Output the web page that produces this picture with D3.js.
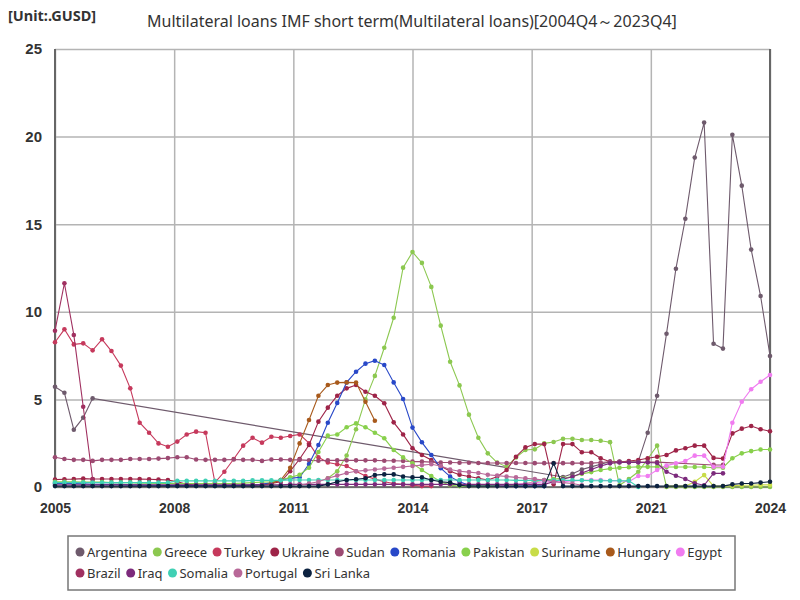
<!DOCTYPE html>
<html>
<head>
<meta charset="utf-8">
<script src="https://cdn.jsdelivr.net/npm/d3@7"></script>
<style>
  body { margin: 0; background: #fff; }
  svg { font-family: "Noto Sans", "DejaVu Sans", sans-serif; }
</style>
</head>
<body>
<div id="chart"></div>
<script>
// ---- data (GUSD, quarterly 2004Q4 .. 2023Q4, null = no value) ----
const _ = null;

const quarters = ["2004Q4"];
for (let yr = 2005; yr <= 2023; yr++) {
  for (let q = 1; q <= 4; q++) quarters.push(yr + "Q" + q);
}

const tickLabels = ["2005", "2008", "2011", "2014", "2017", "2021", "2024"];
const yTicks = [0, 5, 10, 15, 20, 25];

const countries = ["Argentina", "Greece", "Turkey", "Ukraine", "Sudan", "Romania", "Pakistan",
  "Suriname", "Hungary", "Egypt", "Brazil", "Iraq", "Somalia", "Portugal", "Sri Lanka"];

const argentina = [5.72, 5.38, 3.27, 3.96, 5.06,
  _, _, _, _, _, _, _, _, _, _, _, _, _, _, _, _, _, _, _, _, _, _, _, _, _,
  _, _, _, _, _, _, _, _, _, _, _, _, _, _, _, _, _, _, _, _, _, _, _, _,
  0.57, 0.75, 1.0, 1.15, 1.3, 1.45, 1.45, 1.42, 1.45,
  3.1, 5.21, 8.75, 12.46, 15.31, 18.8, 20.8, 8.18, 7.9, 20.1, 17.2, 13.55, 10.9, 7.48];

const greece = [_, _, _, _, _, _, _, _, _, _, _, _, _, _, _, _, _, _, _, _, _, _, _, _, _, _, _, _, _,
  0.5, 0.9, 1.8, 3.3, 5.0, 6.34, 7.95, 9.66, 12.52, 13.41, 12.79, 11.42, 9.21, 7.15, 5.8, 4.13,
  2.81, 1.92, 1.39, 1.16, 1.69, 2.11, 2.15, 2.49, 2.57, 2.75, 2.75, 2.68, 2.68, 2.64, 2.56,
  0.1, 0.46, 0.87, 1.6, 2.36,
  0, 0, 0, 0, 0, 0, 0, 0, 0, 0, 0, 0];

const turkey = [8.26, 9.0, 8.14, 8.2, 7.8, 8.43, 7.76, 6.93, 5.63, 3.67, 3.1, 2.49, 2.3, 2.59, 3.0, 3.16, 3.1,
  0.25, 0.87, 1.6, 2.36, 2.81, 2.53, 2.87, 2.81, 2.91, 3.0,
  2.5, 1.7, 1.4, 1.3, 1.2, 0.9, 0.63, 0.45, 0.3, 0.2, 0.15, 0.1, 0.05, 0.05,
  _, _, _, _, _, _, _, _, _, _, _, _, _, _, _, _, _, _, _, _, _, _, _, _, _, _, _, _, _, _, _, _, _, _, _, _];

const ukraine = [0.42, 0.44, 0.45, 0.48, 0.46, 0.46, 0.46, 0.46, 0.46, 0.45, 0.44, 0.42, 0.4,
  0.3, 0.15, 0.1, 0.1, 0.1, 0.1, 0.1, 0.1, 0.1, 0.15, 0.2,
  0.3, 0.9, 1.6, 2.4, 3.73, 4.53, 5.21, 5.63, 5.82, 5.44, 5.21, 4.78, 3.69, 3.0, 2.21, 1.83,
  1.54, 1.2, 0.9, 0.7, 0.6, 0.5, 0.4, 0.59, 0.97, 1.73, 2.26, 2.45, 2.45,
  0.15, 2.45, 2.45, 1.98, 1.98, 1.64, 1.44, 1.42, 1.48, 1.54, 1.64, 1.73, 1.83, 2.09, 2.21, 2.36,
  2.36, 1.66, 1.62, 3.06, 3.33, 3.48, 3.3, 3.18];

const sudan = [1.7, 1.6, 1.55, 1.55, 1.49, 1.55, 1.55, 1.55, 1.6, 1.6, 1.6, 1.62, 1.65, 1.7, 1.7,
  1.57, 1.55, 1.55, 1.55, 1.57, 1.55, 1.55, 1.49, 1.57, 1.57,
  1.55, 1.55, 1.52, 1.5, 1.52, 1.52, 1.52, 1.52, 1.52, 1.52, 1.5, 1.5, 1.48, 1.45, 1.45, 1.42,
  1.4, 1.4, 1.38, 1.38, 1.37,
  1.37, 1.37, 1.37, 1.37, 1.37, 1.36, 1.36, 1.36, 1.36, 1.36, 1.36, 1.36, 1.4, 1.44, 1.44, 1.42,
  1.42, 1.42, 1.42,
  _, _, _, _, _,
  1.26, 1.26,
  _, _, _, _, _];

const romania = [0.2, 0.2, 0.2, 0.18, 0.15, 0.15, 0.15, 0.15, 0.12, 0.12, 0.1, 0.1, 0.08, 0.08, 0.08,
  0.08, 0.08, 0.08, 0.08, 0.08, 0.1, 0.12, 0.15, 0.25, 0.4,
  0.5, 0.55, 1.31, 2.4, 3.67, 4.8, 5.97, 6.58, 7.04, 7.21, 6.96, 5.97, 5.02, 3.39, 2.55, 1.83,
  1.07, 0.59, 0.3, 0.1,
  0.05, 0.05, 0.05, 0.05, 0.05, 0.05, 0.05, 0.05,
  _, _, _, _, _, _, _, _, _, _, _, _, _, _, _, _, _, _, _, _, _, _, _, _];

const pakistan = [0.3, 0.3, 0.3, 0.28, 0.28, 0.28, 0.25, 0.25, 0.25, 0.22, 0.22, 0.2, 0.2, 0.2, 0.2,
  0.2, 0.2, 0.2, 0.2, 0.2, 0.22, 0.25, 0.28, 0.3,
  0.4, 0.55, 0.7, 1.1, 2.0, 2.93, 3.0, 3.41, 3.63, 3.41, 3.1, 2.78, 2.11, 1.69, 1.35, 0.97,
  0.63, 0.3, 0.1,
  0.05, 0.05, 0.05, 0.05, 0.05, 0.08, 0.1,
  0.2, 0.3, 0.4, 0.45, 0.5, 0.6, 0.75, 0.85, 0.97, 1.05, 1.1, 1.13, 1.15, 1.15, 1.15, 1.14,
  1.14, 1.14, 1.14, 1.14, 1.1, 1.1, 1.64, 1.92, 2.05, 2.14, 2.14];

const suriname = [_, _, _, _, _, _, _, _, _, _, _, _, _, _, _, _, _, _, _, _, _, _, _, _, _, _,
  _, _, _, _, _, _, _, _, _, _, _, _, _, _, _, _, _, _, _, _, _, _, _, _, _, _, _,
  _, _, _, _, _, _, _, _, _, _, _, _,
  0.05, 0.05, 0.05, 0.3, 0.68, 0.05, 0.05, 0.08, 0.1, 0.1, 0.12, 0.12];

const hungary = [_, _, _, _, _, _, _, _, _, _, _, _, _, _, _, _, _, _, _, _, _, _,
  0.1, 0.2, 0.4, 1.1, 2.49, 3.82, 5.21, 5.82, 5.96, 5.97, 5.96, 4.87, 3.78,
  _, _, _, _, _, _, _, _, _, _, _, _, _, _, _, _, _, _, _, _, _, _, _, _, _, _, _, _, _, _, _, _,
  _, _, _, _, _, _, _, _, _, _];

const egypt = [_, _, _, _, _, _, _, _, _, _, _, _, _, _, _, _, _, _, _, _, _, _, _, _, _, _,
  _, _, _, _, _, _, _, _, _, _, _, _, _, _, _, _, _, _, _, _, _,
  0.05, 0.1, 0.15, 0.2, 0.25, 0.3, 0.3, 0.3, 0.35, 0.38, 0.4, 0.4, 0.36, 0.36, 0.3,
  0.63, 0.63, 0.97, 1.22, 1.35, 1.48, 1.79, 1.79, 1.16, 1.16, 3.67, 4.87, 5.58, 6.01, 6.39];

const brazil = [8.92, 11.63, 8.68, 4.58, 0.44,
  _, _, _, _, _, _, _, _, _, _, _, _, _, _, _, _, _, _, _, _, _, _, _, _, _, _, _, _, _, _, _, _,
  _, _, _, _, _, _, _, _, _, _, _, _, _, _, _, _, _, _, _, _, _, _, _, _, _, _, _, _, _, _, _, _,
  _, _, _, _, _, _, _, _];

const iraq = [0.12, 0.12, 0.12, 0.12, 0.12, 0.12, 0.12, 0.12, 0.12, 0.12, 0.12, 0.12, 0.12,
  0.12, 0.12, 0.12, 0.12, 0.12, 0.12, 0.12, 0.12, 0.12, 0.12, 0.12, 0.12,
  0.15, 0.15, 0.15, 0.15, 0.15, 0.15, 0.15, 0.15, 0.15, 0.15, 0.15, 0.15, 0.15, 0.15,
  0.15, 0.15, 0.15, 0.15, 0.15, 0.15, 0.15, 0.15, 0.15, 0.15, 0.15, 0.15, 0.15, 0.15,
  0.3, 0.45, 0.59, 0.8, 1.0, 1.2, 1.35, 1.4, 1.4, 1.4, 1.4, 1.37, 0.87, 0.64, 0.46, 0.21, 0.1,
  0.78, 0.78,
  _, _, _, _, _];

const somalia = [0.25, 0.25, 0.25, 0.25, 0.25, 0.25, 0.25, 0.25, 0.25, 0.25, 0.25, 0.25, 0.25,
  0.35, 0.35, 0.35, 0.35, 0.35, 0.35, 0.35, 0.35, 0.38, 0.38, 0.38, 0.38,
  0.4, 0.4, 0.4, 0.4, 0.4, 0.4, 0.4, 0.4, 0.4, 0.4, 0.4, 0.4, 0.4, 0.4, 0.4, 0.4,
  0.4, 0.4, 0.4, 0.4, 0.4, 0.4, 0.4, 0.4, 0.38, 0.38, 0.38, 0.38, 0.38, 0.38, 0.38, 0.38,
  0.36, 0.36, 0.36, 0.36, 0.35, 0,
  _, _, _, _, _, _, _, _, _, _, _, _, _, _];

const portugal = [_, _, _, _, _, _, _, _, _, _, _, _, _, _, _, _, _, _, _, _, _, _, _, _, _, _,
  0.1, 0.2, 0.3, 0.5, 0.65, 0.8, 0.9, 0.95, 1.0, 1.05, 1.1, 1.15, 1.2, 1.25, 1.3, 1.2, 1.0,
  0.9, 0.85, 0.8, 0.7, 0.65, 0.6, 0.55, 0.5, 0.45, 0.4, 0.3, 0.25, 0.2, 0.1,
  _, _, _, _, _, _, _, _, _, _, _, _, _, _, _, _, _, _, _, _];

const sriLanka = [0.05, 0.05, 0.05, 0.05, 0.05, 0.05, 0.05, 0.05, 0.05, 0.05, 0.05, 0.05, 0.05,
  0.05, 0.05, 0.05, 0.05, 0.05, 0.05, 0.05, 0.05, 0.05, 0.05, 0.05, 0.05, 0.05, 0.05, 0.05, 0.05,
  0.15, 0.3, 0.4, 0.44, 0.5, 0.68, 0.72, 0.72, 0.6, 0.55, 0.55, 0.4, 0.3, 0.25, 0.1,
  0.05, 0.05, 0.05, 0.05, 0.05, 0.05, 0.05, 0.05, 0.05,
  1.35,
  0.05, 0.05, 0.05, 0.05, 0.05, 0.05, 0.05, 0.05, 0.05, 0.05, 0.05, 0.05, 0.05, 0.05, 0.05,
  0.05, 0.05, 0.05,
  0.15, 0.2, 0.2, 0.25, 0.3];

const seriesValues = [argentina, greece, turkey, ukraine, sudan, romania, pakistan,
  suriname, hungary, egypt, brazil, iraq, somalia, portugal, sriLanka];

const palette = ["#6e5a6c", "#8cc850", "#c6395c", "#9e2448", "#9c4a72", "#2848c8", "#88d04c",
  "#c8dc48", "#a85a1c", "#f07cf0", "#a03060", "#7c2a7c", "#40d0b4", "#b86898", "#0c2240"];

// ---- chart ----
const W = 800, H = 600;
const margin = {top: 49, right: 30, bottom: 113, left: 55};
const plotW = W - margin.left - margin.right;
const plotH = H - margin.top - margin.bottom;

const svg = d3.select("#chart").append("svg")
  .attr("width", W)
  .attr("height", H);

const x = d3.scaleLinear().domain([0, quarters.length - 1]).range([0, plotW]);
const y = d3.scaleLinear().domain([0, 25]).range([plotH, 0]);

const g = svg.append("g")
  .attr("transform", "translate(" + margin.left + "," + margin.top + ")");

// tick positions: evenly spaced over the quarter range
const tickPos = tickLabels.map((t, k) => k * (quarters.length - 1) / (tickLabels.length - 1));

// grid
g.append("g")
  .attr("class", "y-grid")
  .call(d3.axisLeft(y).tickValues(yTicks).tickSize(-plotW).tickFormat(""))
  .call(s => s.select(".domain").remove())
  .call(s => s.selectAll("line").attr("stroke", "#b4b4b4").attr("stroke-width", 1.5));

g.append("g")
  .attr("class", "x-grid")
  .attr("transform", "translate(0," + plotH + ")")
  .call(d3.axisBottom(x).tickValues(tickPos).tickSize(-plotH).tickFormat(""))
  .call(s => s.select(".domain").remove())
  .call(s => s.selectAll("line").attr("stroke", "#b4b4b4").attr("stroke-width", 1.5));

// frame
g.append("line").attr("x1", 0).attr("x2", 0).attr("y1", 0).attr("y2", plotH)
  .attr("stroke", "#666").attr("stroke-width", 2);
g.append("line").attr("x1", plotW).attr("x2", plotW).attr("y1", 0).attr("y2", plotH)
  .attr("stroke", "#666").attr("stroke-width", 2);
g.append("line").attr("x1", 0).attr("x2", plotW).attr("y1", plotH).attr("y2", plotH)
  .attr("stroke", "#555").attr("stroke-width", 1.5);

// axis labels
g.append("g")
  .attr("class", "y-axis")
  .call(d3.axisLeft(y).tickValues(yTicks).tickSize(0).tickPadding(13))
  .call(s => s.select(".domain").remove())
  .call(s => s.selectAll("text")
    .attr("fill", "#333").style("font-size", "15px").style("font-weight", "bold"));

g.append("g")
  .attr("class", "x-axis")
  .attr("transform", "translate(0," + plotH + ")")
  .call(d3.axisBottom(x).tickValues(tickPos).tickSize(0).tickPadding(16)
    .tickFormat((d, k) => tickLabels[k]))
  .call(s => s.select(".domain").remove())
  .call(s => s.selectAll("text")
    .attr("fill", "#333").style("font-size", "14px").style("font-weight", "bold"));

// lines and points
const line = d3.line().x(d => x(d.i)).y(d => y(d.v));

seriesValues.forEach((vals, k) => {
  const pts = vals.map((v, i) => ({i: i, v: v})).filter(d => d.v !== null);
  const sg = g.append("g").attr("class", "series");
  sg.append("path")
    .datum(pts)
    .attr("d", line)
    .attr("fill", "none")
    .attr("stroke", palette[k])
    .attr("stroke-width", 1.1);
  sg.selectAll("circle")
    .data(pts)
    .enter().append("circle")
    .attr("cx", d => x(d.i))
    .attr("cy", d => y(d.v))
    .attr("r", 2.3)
    .attr("fill", palette[k]);
});

// titles
svg.append("text")
  .attr("x", 8).attr("y", 21)
  .style("font-size", "14.5px").style("font-weight", "bold").attr("fill", "#333")
  .text("[Unit:.GUSD]");

svg.append("text")
  .attr("x", 412).attr("y", 27)
  .attr("text-anchor", "middle")
  .style("font-size", "16px").attr("fill", "#333")
  .text("Multilateral loans IMF short term(Multilateral loans)[2004Q4～2023Q4]");

// legend
const legend = svg.append("g").attr("class", "legend");
legend.append("rect")
  .attr("x", 68).attr("y", 536)
  .attr("width", 667).attr("height", 54)
  .attr("fill", "none").attr("stroke", "#777").attr("stroke-width", 1.5);

let lx = 80, ly = 552;
const rowEnd = 748;
countries.forEach((name, k) => {
  const item = legend.append("g");
  const t = item.append("text")
    .attr("x", 7).attr("y", 5)
    .style("font-size", "13px").attr("fill", "#333")
    .text(name);
  const w = t.node().getComputedTextLength() + 7;
  if (lx + w > rowEnd) { lx = 80; ly += 21; }
  item.attr("transform", "translate(" + lx + "," + ly + ")");
  item.append("circle").attr("r", 4.5).attr("fill", palette[k]);
  lx += w + 10;
});
</script>
</body>
</html>
